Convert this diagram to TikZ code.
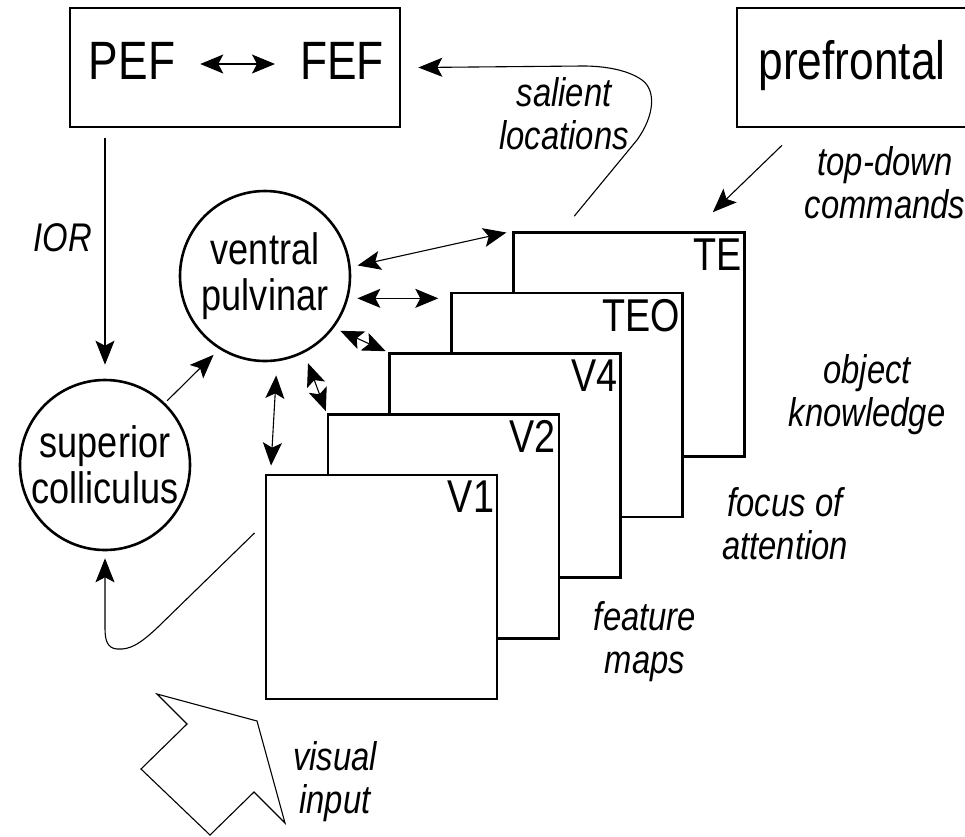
\documentclass[tikz,border=0pt]{standalone}
\usepackage{fontspec}
\setmainfont{Liberation Sans}[FakeStretch=0.82]
\usetikzlibrary{arrows.meta}

\begin{document}
\begin{tikzpicture}[
                x=1pt, y=-1pt,
                areabox/.style={draw, line width=2.6pt, minimum height=119pt, inner sep=0pt},
                mapbox/.style={draw, line width=2.6pt, fill=white, minimum width=231pt, minimum height=224pt, inner sep=0pt},
                maplabel/.style={anchor=north east, inner xsep=4pt, inner ysep=7pt, font=\fontsize{46}{46}\selectfont},
                region/.style={draw, circle, line width=2.6pt, minimum size=170pt, inner sep=0pt, align=center, font=\fontsize{44}{46}\selectfont},
                boxtext/.style={inner sep=0pt, font=\fontsize{54}{54}\selectfont},
                note/.style={inner sep=0pt, align=center, font=\fontsize{40}{43}\selectfont\itshape},
                arr/.style={line width=1.1pt, -{Stealth[length=24pt, width=19pt, inset=5pt]}},
                dbl/.style={line width=1.1pt, {Stealth[length=23pt, width=19pt, inset=5pt]}-{Stealth[length=23pt, width=19pt, inset=5pt]}} ]

            \useasboundingbox (0,0) rectangle (965,836);

            \node[areabox, minimum width=330pt] (area) at (235,67.5) {};
            \node[boxtext] (pef) at (132,61) {PEF};
            \node[boxtext] (fef) at (342,61) {FEF};
            \node[areabox, minimum width=231pt] (pref) at (852.5,67.5) {};
            \node[boxtext] (preftext) at (852,66) {prefrontal};

            \foreach \n/\l [count=\i from 0] in {te/TE, teo/TEO, vfour/V4, vtwo/V2, vone/V1} {
                    \node[mapbox] (\n) at ({629-61.9*\i}, {344.5+60.6*\i}) {};
                    \node[maplabel] (\n label) at (\n.north east) {\l};
                }

            \node[region] (vp) at (265,276) {ventral\\pulvinar};
            \node[region] (sc) at (105,465) {superior\\colliculus};

            \node[note] (ior) at (63,238) {IOR};
            \node[note] (salient) at (564,114) {salient\\locations};
            \node[note] (topdown) at (885,183) {top-down\\commands};
            \node[note] (object) at (867,395) {object\\knowledge};
            \node[note] (focus) at (785,524) {focus of\\attention};
            \node[note] (feature) at (645,642) {feature\\maps};
            \node[note] (visual) at (335,782) {visual\\input};

            \draw[dbl, shorten <=25pt, shorten >=25pt] ([yshift=-3pt]pef.east) -- ([yshift=-3pt]fef.west);
            \draw[arr, shorten <=10pt, shorten >=14pt] (area.south -| sc.north) -- (sc.north);
            \draw[arr, shorten <=3pt, shorten >=8pt] (sc.46) -- (vp.238);

            \draw[dbl, shorten <=7pt, shorten >=6pt] (vp.6) -- (te.north west);
            \draw[dbl, shorten <=9pt, shorten >=12pt] (vp.-15) -- (vp.-15 -| teo.west);
            \draw[dbl, shorten <=7pt, shorten >=3pt] (vp.-37) -- (vfour.north west);
            \draw[dbl, shorten <=11pt, shorten >=2pt] (vp.-63) -- (vtwo.north west);
            \draw[dbl, shorten <=14pt, shorten >=8pt] (vp.-82) -- ([xshift=6pt]vone.north west);

            \draw[arr] ([shift={(-70.5,17)}]pref.south) -- ([shift={(-33,-19)}]te.north east);

            \coordinate (sal) at ([shift={(62,-15)}]te.north west);
            \draw[arr] (sal) -- (637,140) .. controls (655,115) and (656,90) .. (642,80)
                .. controls (628,70) and (605,66) .. (583,66) -- ([xshift=17pt]area.east);

            \coordinate (back) at ([shift={(-10,-54)}]vone.west);
            \draw[arr, shorten >=7pt] (back) -- (158,627) .. controls (140,644) and (130,650) .. (117,649)
                .. controls (107,648) and (105,640) .. (105,628) -- (sc.south);

            \draw[line width=1.1pt]
            (157,694) -- (257,721) -- (285,823) -- (254,792) -- (210,835) -- (141,769) -- (187,724) -- cycle;

        \end{tikzpicture}
\end{document}
